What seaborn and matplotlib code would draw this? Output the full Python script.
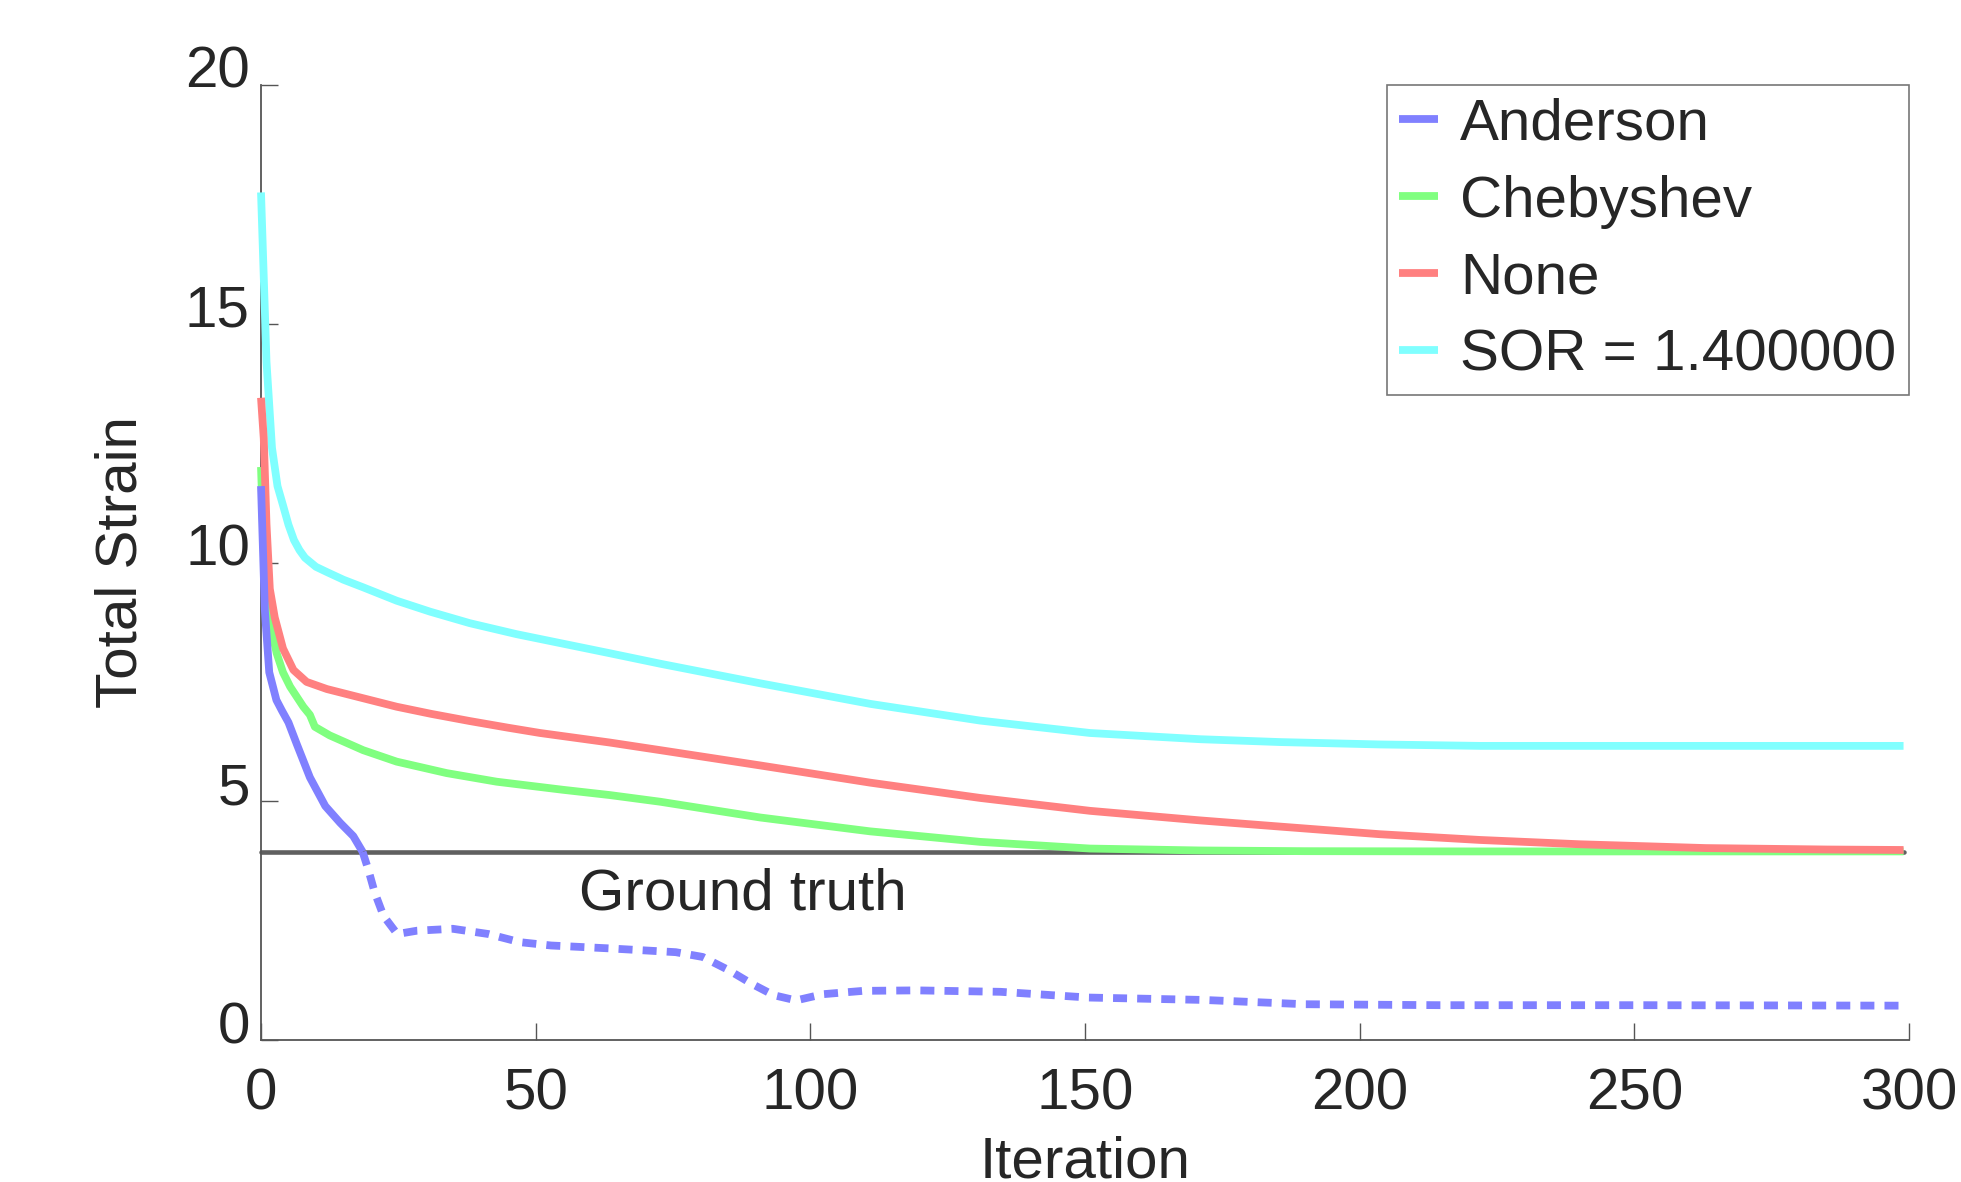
import numpy as np
import pandas as pd
import matplotlib
matplotlib.use("Agg")
import matplotlib.pyplot as plt
import seaborn as sns
from matplotlib.transforms import ScaledTranslation

# ---------------- data ----------------
anderson_iter_solid = [0, 0.7, 1.5, 2.8, 3.8, 5.0, 6.5, 8.9, 11.7, 14.4, 16.8, 18.5]
anderson_solid = [11.6, 9.0, 7.7, 7.12, 6.9, 6.65, 6.2, 5.5, 4.9, 4.55, 4.27, 3.94]

anderson_iter_dashed = [18.5, 19.5, 20.7, 22.3, 24.8, 28.4, 34.9, 41.4, 47.1, 52.8,
                        63.3, 75.5, 80.4, 85.2, 89.3, 93.3, 97.4, 102.3, 109.6, 119.3,
                        134.6, 150.6, 171.5, 190, 214.6, 251.5, 299]
anderson_dashed = [3.94, 3.58, 3.09, 2.6, 2.22, 2.29, 2.33, 2.22, 2.05, 1.98,
                   1.92, 1.84, 1.74, 1.46, 1.18, 0.94, 0.83, 0.96, 1.03, 1.04,
                   1.01, 0.89, 0.84, 0.75, 0.73, 0.73, 0.72]

chebyshev_iter = [0, 0.5, 1, 2, 2.85, 4, 5.3, 7.7, 8.9, 9.8, 12.5, 18.6, 24.7, 33.8,
                  42.9, 55, 63.5, 72.7, 90.9, 110.9, 130.9, 150.9, 170.9, 190, 220,
                  260, 299]
chebyshev = [12.0, 10.3, 9.2, 8.55, 8.1, 7.7, 7.4, 6.98, 6.81, 6.56, 6.38, 6.07,
             5.83, 5.59, 5.41, 5.24, 5.13, 4.99, 4.66, 4.37, 4.15, 4.01, 3.97,
             3.955, 3.95, 3.95, 3.95]

none_iter = [0, 0.5, 1, 1.6, 2.5, 4, 5.9, 8.3, 12, 19.2, 24.7, 31, 38, 45, 50.8,
             63.5, 72.7, 90.9, 110.9, 130.9, 150.9, 170.9, 185.5, 203.7, 221.9,
             240, 263, 285, 299]
none_vals = [13.45, 12.6, 10.8, 9.45, 8.85, 8.2, 7.75, 7.5, 7.35, 7.14, 6.98, 6.83,
             6.68, 6.54, 6.43, 6.23, 6.07, 5.75, 5.39, 5.07, 4.8, 4.6, 4.47, 4.31,
             4.19, 4.1, 4.02, 3.99, 3.98]

sor_iter = [0, 1, 2, 3, 4, 5, 6, 7, 8, 10, 12, 15, 18.6, 24.7, 30.8, 38, 46.5, 55,
            63.5, 72.7, 90.9, 110.9, 130.9, 150.9, 170.9, 185.5, 203.7, 221.9,
            243.8, 270, 299]
sor = [17.75, 14.2, 12.4, 11.6, 11.2, 10.79, 10.47, 10.26, 10.1, 9.91, 9.8, 9.64,
       9.48, 9.2, 8.97, 8.73, 8.5, 8.3, 8.1, 7.88, 7.47, 7.04, 6.69, 6.43, 6.3,
       6.24, 6.19, 6.16, 6.16, 6.16, 6.16]

ground_truth = 3.94
ground_truth_iter = [0, 299]

series_labels = ["Anderson", "Chebyshev", "None", "SOR = 1.400000"]
series_colors = ["#8080FF", "#80FF80", "#FF8080", "#80FFFF"]
x_ticks = [0, 50, 100, 150, 200, 250, 300]
y_ticks = [0, 5, 10, 15, 20]

# ---------------- style ----------------
sns.set_theme(style="ticks")
plt.rcParams["font.family"] = ["Liberation Sans", "DejaVu Sans"]
plt.rcParams["text.color"] = "#262626"
plt.rcParams["axes.labelcolor"] = "#262626"
plt.rcParams["xtick.color"] = "#555555"
plt.rcParams["ytick.color"] = "#555555"
plt.rcParams["xtick.labelcolor"] = "#262626"
plt.rcParams["ytick.labelcolor"] = "#262626"

FS = 42
LW = 5.6

fig = plt.figure(figsize=(19.61, 11.82), dpi=100)
ax = fig.add_axes([0.1331, 0.1201, 0.8404, 0.8080])

# ground truth line
sns.lineplot(x=ground_truth_iter, y=[ground_truth] * len(ground_truth_iter), ax=ax,
             color="#606060", lw=3.3, zorder=2, clip_on=False)

common = dict(lw=LW, solid_capstyle="butt", clip_on=False, estimator=None, sort=False)

sns.lineplot(x=anderson_iter_solid, y=anderson_solid, ax=ax, color=series_colors[0],
             label=series_labels[0], zorder=6, **common)
sns.lineplot(x=anderson_iter_dashed, y=anderson_dashed, ax=ax, color=series_colors[0],
             label="_nolegend_", zorder=6, **common)
dashed_line = ax.lines[-1]
dashed_line.set_linestyle((0, (1.8, 1.3)))
dashed_line.set_dash_capstyle("butt")

sns.lineplot(x=chebyshev_iter, y=chebyshev, ax=ax, color=series_colors[1],
             label=series_labels[1], zorder=4, **common)
sns.lineplot(x=none_iter, y=none_vals, ax=ax, color=series_colors[2],
             label=series_labels[2], zorder=5, **common)
sns.lineplot(x=sor_iter, y=sor, ax=ax, color=series_colors[3],
             label=series_labels[3], zorder=3, **common)

ax.text(57.9, 2.74, "Ground truth", fontsize=FS, ha="left", va="baseline",
        color="#262626")

# axes
ax.set_xlim(0, 300)
ax.set_ylim(0, 20)
ax.set_xticks(x_ticks)
ax.set_yticks(y_ticks)
ax.set_xticklabels([str(t) for t in x_ticks])
ax.set_yticklabels([str(t) for t in y_ticks])
sns.despine(ax=ax)
for sp in ["left", "bottom"]:
    ax.spines[sp].set_color("#555555")
    ax.spines[sp].set_linewidth(1.3)
ax.tick_params(axis="both", direction="in", length=12, width=1.0, labelsize=FS)
ax.tick_params(axis="x", pad=20)
ax.tick_params(axis="y", pad=8)
for lab in ax.get_yticklabels():
    lab.set_transform(lab.get_transform() + ScaledTranslation(0, 0.18, fig.dpi_scale_trans))

ax.set_xlabel("Iteration", fontsize=FS)
ax.set_ylabel("Total Strain", fontsize=FS, va="center")
ax.xaxis.set_label_coords(0.5, -0.0995)
ax.yaxis.set_label_coords(-0.0847, 0.5)

handles, labels = ax.get_legend_handles_labels()
leg = ax.legend(handles, labels, loc="upper right", bbox_to_anchor=(1.0, 1.0),
                borderaxespad=0.0, fontsize=FS, frameon=True, fancybox=False,
                framealpha=1.0, edgecolor="#777777", handlelength=0.66,
                handletextpad=0.38, labelspacing=0.39, borderpad=0.22)
leg.get_frame().set_linewidth(1.2)
for h in leg.get_lines():
    h.set_linewidth(LW)
    h.set_solid_capstyle("butt")

fig.savefig("out.png", dpi=100, facecolor="white")
